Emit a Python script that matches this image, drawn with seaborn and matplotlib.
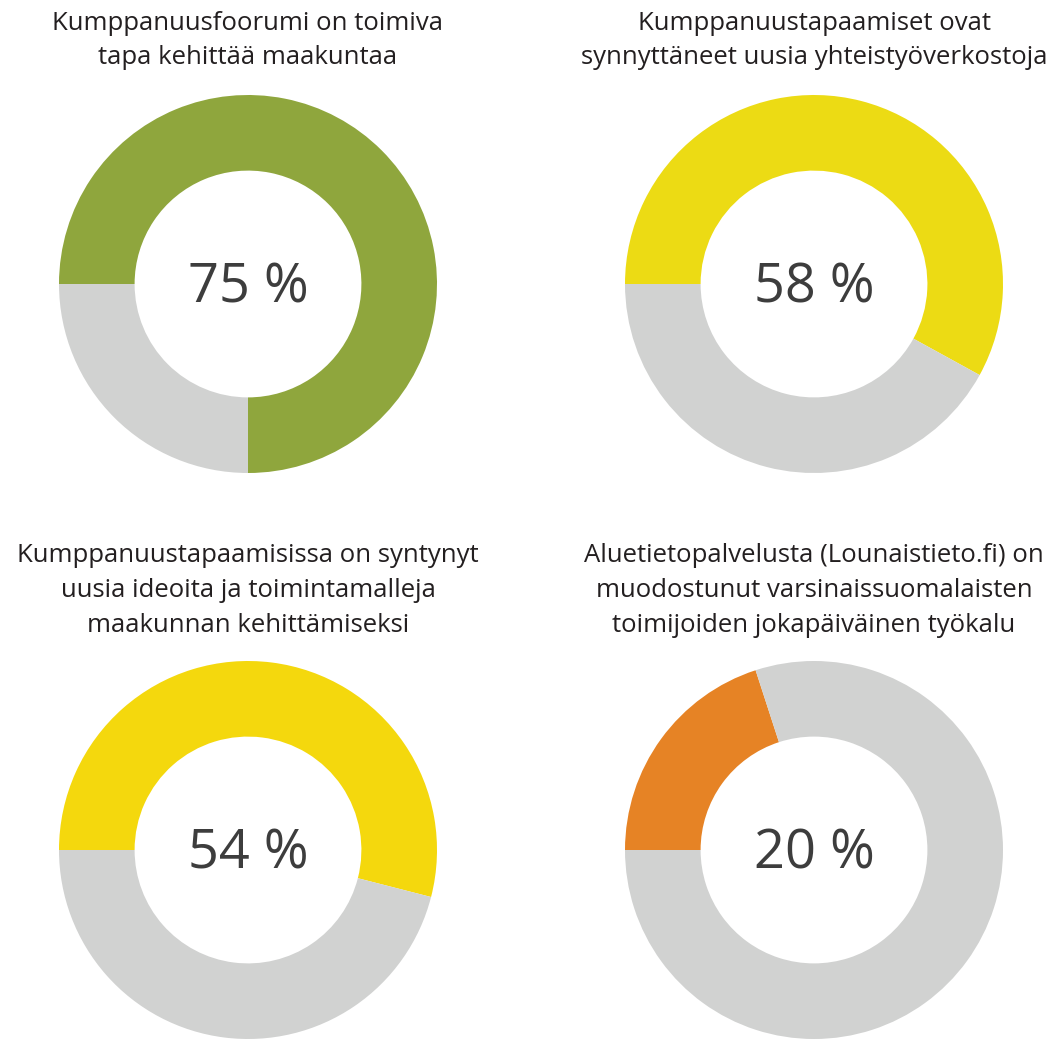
import matplotlib
matplotlib.use("Agg")
import matplotlib.pyplot as plt
import seaborn as sns

# Survey results: share of respondents agreeing with each statement
titles = [
    ["Kumppanuusfoorumi on toimiva", "tapa kehittää maakuntaa"],
    ["Kumppanuustapaamiset ovat", "synnyttäneet uusia yhteistyöverkostoja"],
    ["Kumppanuustapaamisissa on syntynyt", "uusia ideoita ja toimintamalleja", "maakunnan kehittämiseksi"],
    ["Aluetietopalvelusta (Lounaistieto.fi) on", "muodostunut varsinaissuomalaisten", "toimijoiden jokapäiväinen työkalu"],
]
percentages = [75, 58, 54, 20]
colors = ["#8fa63d", "#ecdb14", "#f4d80d", "#e68325"]
rest_color = "#d1d2d1"

sns.set_theme(style="white")
plt.rcParams["font.family"] = ["Open Sans", "DejaVu Sans"]

W, H = 1054, 1041
fig = plt.figure(figsize=(W / 100, H / 100), dpi=100)
fig.patch.set_facecolor("white")

centers = [(248, 284), (814, 284), (248, 850), (814, 850)]
title_baselines = [[30, 64], [30, 64], [562, 597, 632], [562, 597, 632]]
R = 189

for title, pct, col, (cx, cy), bases in zip(titles, percentages, colors, centers, title_baselines):
    ax = fig.add_axes([(cx - R) / W, 1 - (cy + R) / H, 2 * R / W, 2 * R / H])
    ax.pie([pct, 100 - pct], colors=[col, rest_color], startangle=180,
           counterclock=False, radius=1,
           wedgeprops=dict(width=0.4, edgecolor="none", linewidth=0))
    ax.set_xlim(-1, 1)
    ax.set_ylim(-1, 1)
    ax.set_aspect("equal")
    ax.axis("off")
    ax.text(0, -0.1, f"{pct} %", ha="center", va="baseline",
            fontsize=39, color="#3d3d3d")
    for line, b in zip(title, bases):
        fig.text(cx / W, 1 - b / H, line, ha="center", va="baseline",
                 fontsize=18.5, color="#231f20")

fig.savefig("out.png", dpi=100, facecolor="white")
